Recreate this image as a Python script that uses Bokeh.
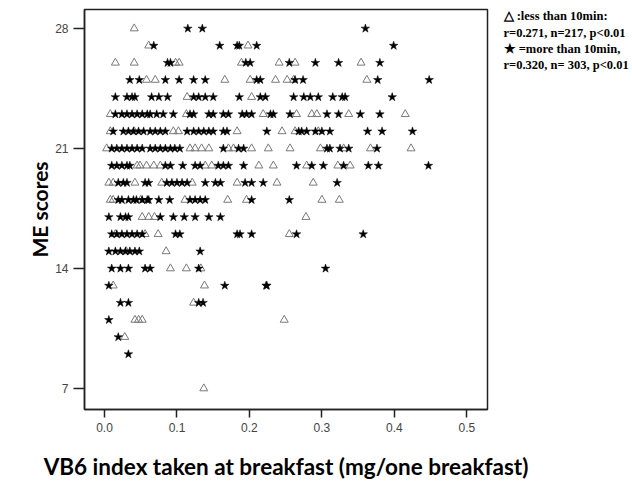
from bokeh.plotting import figure
from bokeh.models import Range1d, FixedTicker, PrintfTickFormatter, LinearAxis
from bokeh.embed import file_html
from bokeh.resources import INLINE

# ME score -> VB6 index values (mg / one breakfast)
# open triangles: breakfast taken in less than 10 min
less_10min = {
    28: [0.041],
    27: [0.061, 0.198],
    26: [0.015, 0.041, 0.098, 0.103, 0.189, 0.241, 0.263, 0.354],
    25: [0.058, 0.070, 0.166, 0.201, 0.236, 0.252, 0.261, 0.362],
    24: [0.114, 0.203],
    23: [0.008, 0.113, 0.219, 0.265, 0.286, 0.293, 0.337, 0.415],
    22: [0.008, 0.041, 0.095, 0.102, 0.183, 0.245, 0.263, 0.295],
    21: [0.003, 0.118, 0.125, 0.134, 0.144, 0.171, 0.178, 0.203, 0.226,
         0.256, 0.298, 0.330, 0.367, 0.423],
    20: [0.045, 0.049, 0.058, 0.068, 0.077, 0.139, 0.148, 0.213, 0.233,
         0.279, 0.322, 0.339],
    19: [0.006, 0.012, 0.042, 0.079, 0.121, 0.183, 0.238, 0.288],
    18: [0.008, 0.012, 0.050, 0.111, 0.170, 0.196, 0.300, 0.324],
    17: [0.052, 0.061, 0.069, 0.278],
    16: [0.015, 0.056, 0.074, 0.255],
    15: [0.030, 0.085],
    14: [0.091, 0.113, 0.133],
    13: [0.012, 0.138],
    12: [0.123],
    11: [0.042, 0.047, 0.052, 0.248],
    10: [0.028],
    7: [0.137],
}
# filled stars: more than 10 min
more_10min = {
    28: [0.115, 0.135, 0.360],
    27: [0.068, 0.159, 0.183, 0.186, 0.210, 0.399],
    26: [0.087, 0.091, 0.195, 0.201, 0.255, 0.291, 0.323, 0.380],
    25: [0.035, 0.048, 0.084, 0.103, 0.123, 0.139, 0.210, 0.215, 0.263,
         0.274, 0.377, 0.448],
    24: [0.015, 0.031, 0.038, 0.042, 0.065, 0.075, 0.087, 0.123, 0.130,
         0.139, 0.150, 0.186, 0.215, 0.222, 0.261, 0.275, 0.284, 0.295,
         0.315, 0.328, 0.332, 0.397],
    23: [0.015, 0.024, 0.031, 0.038, 0.045, 0.052, 0.059, 0.063, 0.072,
         0.081, 0.095, 0.118, 0.123, 0.144, 0.150, 0.164, 0.171, 0.190,
         0.196, 0.203, 0.229, 0.233, 0.256, 0.307, 0.323, 0.353, 0.380],
    22: [0.012, 0.026, 0.033, 0.040, 0.047, 0.054, 0.063, 0.070, 0.077,
         0.084, 0.114, 0.123, 0.130, 0.137, 0.144, 0.150, 0.164, 0.169,
         0.224, 0.268, 0.272, 0.279, 0.291, 0.300, 0.311, 0.363, 0.383,
         0.425],
    21: [0.010, 0.017, 0.024, 0.031, 0.038, 0.045, 0.052, 0.063, 0.070,
         0.077, 0.084, 0.091, 0.097, 0.104, 0.164, 0.185, 0.192, 0.307,
         0.311, 0.325, 0.337, 0.376],
    20: [0.010, 0.017, 0.024, 0.031, 0.035, 0.084, 0.091, 0.108, 0.125,
         0.132, 0.157, 0.164, 0.171, 0.192, 0.265, 0.286, 0.302, 0.330,
         0.364, 0.378, 0.447],
    19: [0.019, 0.026, 0.031, 0.056, 0.061, 0.086, 0.093, 0.100, 0.107,
         0.114, 0.139, 0.153, 0.160, 0.194, 0.203, 0.219, 0.321],
    18: [0.019, 0.024, 0.033, 0.040, 0.044, 0.052, 0.059, 0.061, 0.075,
         0.090, 0.118, 0.125, 0.132, 0.139, 0.203, 0.255],
    17: [0.006, 0.022, 0.029, 0.033, 0.077, 0.095, 0.110, 0.125, 0.144, 0.160],
    16: [0.010, 0.017, 0.024, 0.031, 0.038, 0.045, 0.052, 0.098, 0.104,
         0.183, 0.187, 0.203, 0.265, 0.357],
    15: [0.006, 0.015, 0.022, 0.029, 0.035, 0.042, 0.048, 0.132],
    14: [0.010, 0.022, 0.033, 0.056, 0.063, 0.130, 0.305],
    13: [0.006, 0.166, 0.223, 0.224],
    12: [0.022, 0.033, 0.130, 0.136],
    11: [0.006],
    10: [0.019],
    9: [0.033],
}

x_ticks = [0.0, 0.1, 0.2, 0.3, 0.4, 0.5]
y_ticks = [7, 14, 21, 28]

# correlation notes shown at the top right, outside the plot box
notes = [
    "\u25b3 :less than 10min:",
    "r=0.271, n=217, p<0.01",
    "\u2605 =more than 10min,",
    "r=0.320, n= 303, p<0.01",
]

tri_x = [x for y, xs in less_10min.items() for x in xs]
tri_y = [y for y, xs in less_10min.items() for x in xs]
star_x = [x for y, xs in more_10min.items() for x in xs]
star_y = [y for y, xs in more_10min.items() for x in xs]

p = figure(width=632, height=489, output_backend="svg", toolbar_location=None,
           x_range=Range1d(-0.0276, 0.5285), y_range=Range1d(5.775, 29.11),
           min_border_left=84, min_border_right=145, min_border_top=9,
           min_border_bottom=80)
p.background_fill_color = "white"
p.border_fill_color = "white"
p.outline_line_color = "#222222"
p.outline_line_width = 1.5
p.grid.visible = False

p.scatter(tri_x, tri_y, marker="triangle", size=8, fill_color=None,
          line_color="#7a7a7a", line_width=1)
p.scatter(star_x, star_y, marker="star", size=9, fill_color="black",
          line_color="black", line_width=0.5)

p.xaxis.ticker = FixedTicker(ticks=x_ticks)
p.xaxis.formatter = PrintfTickFormatter(format="%.1f")
p.yaxis.ticker = FixedTicker(ticks=y_ticks)

for ax in (p.xaxis, p.yaxis):
    ax.minor_tick_line_color = None
    ax.major_tick_in = 0
    ax.axis_line_color = "#222222"
    ax.axis_line_width = 1.5
    ax.major_tick_line_color = "#222222"
    ax.major_tick_line_width = 1.5
    ax.major_label_text_font = "Liberation Sans"
    ax.major_label_text_font_size = "12px"
    ax.major_label_text_color = "#444444"
    ax.axis_label_text_font = "Lato"
    ax.axis_label_text_font_style = "bold"
    ax.axis_label_text_color = "black"

p.xaxis.major_tick_out = 8
p.yaxis.major_tick_out = 11
p.xaxis.axis_label = "VB6 index taken at breakfast (mg/one breakfast)"
p.yaxis.axis_label = "ME scores"
p.xaxis.axis_label_text_font_size = "22.5px"
p.yaxis.axis_label_text_font_size = "21px"
p.xaxis.axis_label_standoff = 18
p.yaxis.axis_label_standoff = 0

# the notes ride on a bare right-hand axis, measured in px from the box top
p.extra_y_ranges = {"notes": Range1d(400, 0)}
note_rows = [6, 23, 39, 55]
note_axis = LinearAxis(y_range_name="notes", ticker=FixedTicker(ticks=note_rows),
                       major_label_overrides=dict(zip(note_rows, notes)))
note_axis.axis_line_color = None
note_axis.major_tick_line_color = None
note_axis.minor_tick_line_color = None
note_axis.major_label_standoff = 10
note_axis.major_label_text_font = "Liberation Serif"
note_axis.major_label_text_font_style = "bold"
note_axis.major_label_text_font_size = "12.5px"
note_axis.major_label_text_color = "black"
p.add_layout(note_axis, "right")

open("out.html", "w").write(file_html(p, INLINE))
